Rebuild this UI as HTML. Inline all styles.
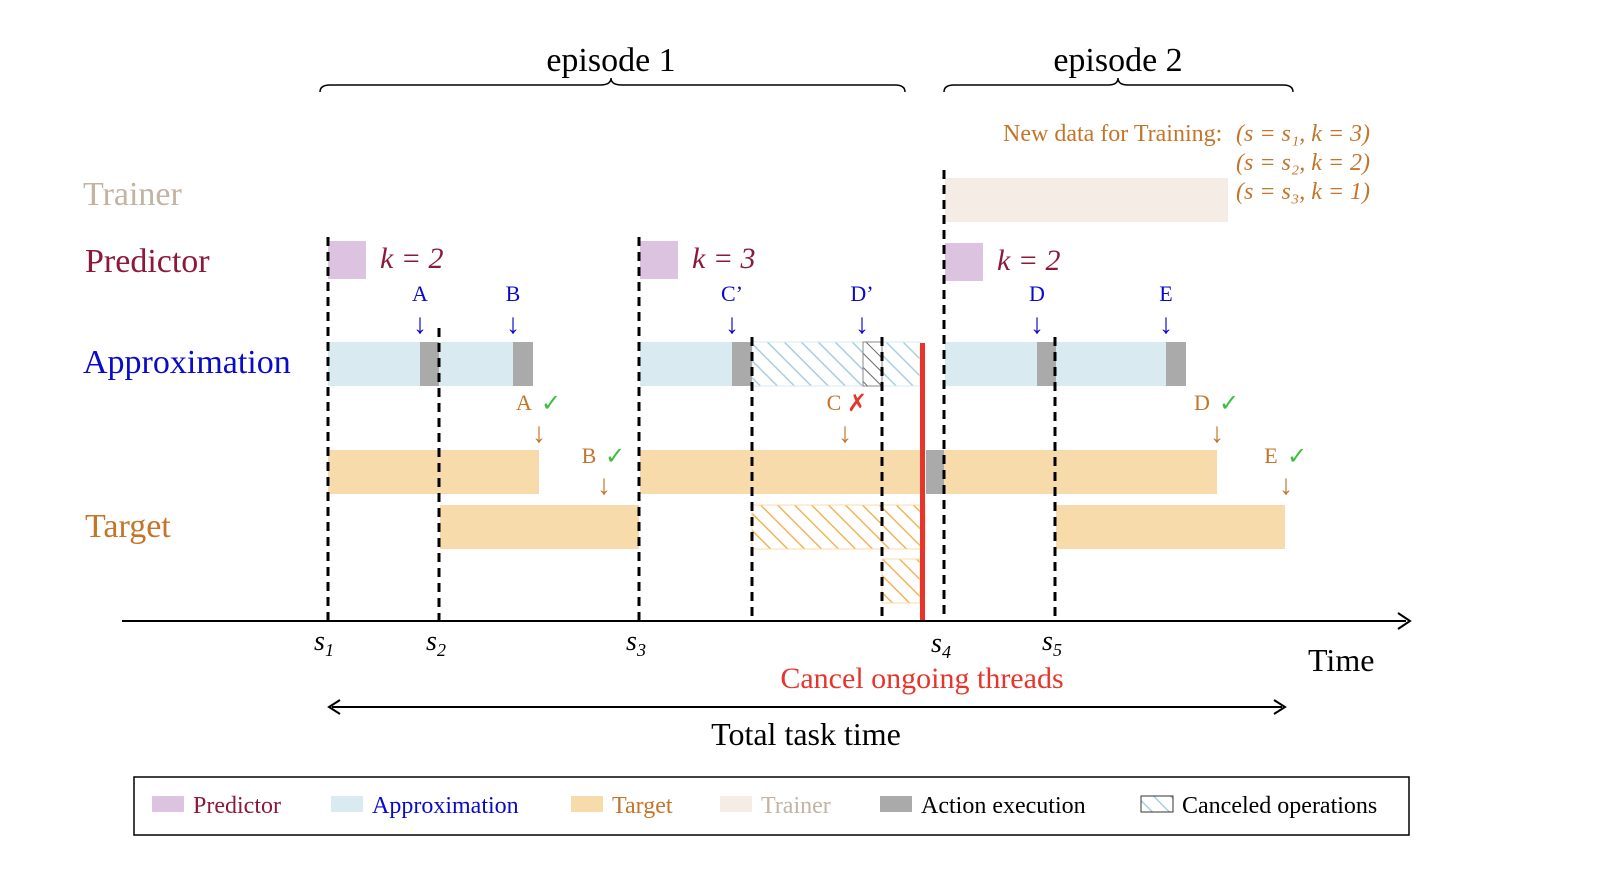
<!DOCTYPE html>
<html><head><meta charset="utf-8"><style>body{margin:0;background:#fff}svg{display:block;font-family:"Liberation Serif",serif}</style></head><body>
<svg width="1600" height="872" viewBox="0 0 1600 872">
<defs>
<pattern id="hb" patternUnits="userSpaceOnUse" width="12" height="12" patternTransform="rotate(-45)"><rect width="12" height="12" fill="#fff"/><line x1="0" y1="0" x2="0" y2="12" stroke="#a9cfe0" stroke-width="3"/></pattern>
<pattern id="ho" patternUnits="userSpaceOnUse" width="12" height="12" patternTransform="rotate(-45)"><rect width="12" height="12" fill="#fff"/><line x1="0" y1="0" x2="0" y2="12" stroke="#f3b45a" stroke-width="3"/></pattern>
<pattern id="hk" patternUnits="userSpaceOnUse" width="10" height="10" patternTransform="rotate(-45)"><rect width="10" height="10" fill="#fff"/><line x1="0" y1="0" x2="0" y2="10" stroke="#666" stroke-width="2"/></pattern>
</defs>
<g fill="none" stroke="#000" stroke-width="1.5">
<path d="M320 92 Q320 85 330 85 L600 85 Q611 85 611 78 Q611 85 622 85 L895 85 Q905 85 905 92"/>
<path d="M944 92 Q944 85 954 85 L1108 85 Q1118 85 1118 78 Q1118 85 1128 85 L1283 85 Q1293 85 1293 92"/>
</g>
<text x="611" y="71" font-size="34" text-anchor="middle">episode 1</text>
<text x="1118" y="71" font-size="34" text-anchor="middle">episode 2</text>
<g fill="#c4752a" font-size="24">
<text x="1003" y="141">New data for Training:</text>
<text x="1236" y="141" font-style="italic">(s = s₁, k = 3)</text>
<text x="1236" y="170" font-style="italic">(s = s₂, k = 2)</text>
<text x="1236" y="199" font-style="italic">(s = s₃, k = 1)</text>
</g>
<text x="83" y="205" font-size="34" fill="#c3b3a3">Trainer</text>
<text x="85" y="272" font-size="34" fill="#8b1a3a">Predictor</text>
<text x="83" y="373" font-size="34" fill="#0a0acd">Approximation</text>
<text x="85" y="537" font-size="34" fill="#c4752a">Target</text>
<rect x="945" y="178" width="283" height="44" fill="#f4ece5"/>
<g fill="#dcc3df"><rect x="328" y="241" width="38" height="38"/><rect x="640" y="241" width="38" height="38"/><rect x="945" y="243" width="38" height="38"/></g>
<g font-size="30" fill="#8b1a3a" font-style="italic"><text x="380" y="268">k = 2</text><text x="692" y="268">k = 3</text><text x="997" y="270">k = 2</text></g>
<g fill="#d9eaf1"><rect x="328" y="342" width="92" height="44"/><rect x="439" y="342" width="74" height="44"/><rect x="640" y="342" width="92" height="44"/><rect x="945" y="342" width="92" height="44"/><rect x="1056" y="342" width="110" height="44"/></g>
<rect x="752" y="342" width="168" height="44" fill="url(#hb)" stroke="#d9eaf1"/>
<rect x="863" y="342" width="19" height="44" fill="url(#hk)" stroke="#888"/>
<g fill="#aaa"><rect x="420" y="342" width="19" height="44"/><rect x="513" y="342" width="20" height="44"/><rect x="732" y="342" width="20" height="44"/><rect x="1037" y="342" width="19" height="44"/><rect x="1166" y="342" width="20" height="44"/><rect x="926" y="450" width="18" height="44"/></g>
<g fill="#f8dbaa"><rect x="328" y="450" width="211" height="44"/><rect x="640" y="450" width="282" height="44"/><rect x="944" y="450" width="273" height="44"/><rect x="440" y="505" width="199" height="44"/><rect x="1056" y="505" width="229" height="44"/></g>
<rect x="752" y="505" width="173" height="44" fill="url(#ho)" stroke="#f8dbaa"/>
<rect x="882" y="559" width="38" height="44" fill="url(#ho)" stroke="#f8dbaa"/>
<g stroke="#000" stroke-width="3" stroke-dasharray="9,6">
<line x1="328" y1="237" x2="328" y2="620"/><line x1="439" y1="328" x2="439" y2="620"/><line x1="639" y1="237" x2="639" y2="620"/><line x1="752" y1="337" x2="752" y2="620"/><line x1="882" y1="337" x2="882" y2="620"/><line x1="944" y1="170" x2="944" y2="620"/><line x1="1055" y1="337" x2="1055" y2="620"/>
</g>
<rect x="920" y="343" width="5" height="278" fill="#e8352b"/>
<g font-size="22" fill="#0a0acd" text-anchor="middle">
<text x="420" y="301">A</text><text x="513" y="301">B</text><text x="732" y="301">C’</text><text x="862" y="301">D’</text><text x="1037" y="301">D</text><text x="1166" y="301">E</text>
<text x="420" y="333" font-size="28">↓</text><text x="513" y="333" font-size="28">↓</text><text x="732" y="333" font-size="28">↓</text><text x="862" y="333" font-size="28">↓</text><text x="1037" y="333" font-size="28">↓</text><text x="1166" y="333" font-size="28">↓</text>
</g>
<g font-size="22" fill="#c4752a" text-anchor="middle">
<text x="524" y="410">A</text><text x="589" y="463">B</text><text x="834" y="410">C</text><text x="1202" y="410">D</text><text x="1271" y="463">E</text>
<text x="539" y="442" font-size="28">↓</text><text x="604" y="494" font-size="28">↓</text><text x="845" y="442" font-size="28">↓</text><text x="1217" y="442" font-size="28">↓</text><text x="1286" y="494" font-size="28">↓</text>
</g>
<g font-size="24" fill="#3cc03c" font-family="DejaVu Sans"><text x="541" y="411">✓</text><text x="605" y="464">✓</text><text x="1219" y="411">✓</text><text x="1287" y="464">✓</text></g>
<text x="847" y="411" font-size="24" fill="#e8352b" font-family="DejaVu Sans">✗</text>
<line x1="122" y1="621" x2="1406" y2="621" stroke="#000" stroke-width="2"/>
<path d="M1398 613 L1410 621 L1398 629" fill="none" stroke="#000" stroke-width="2"/>
<g font-size="28" font-style="italic" text-anchor="middle">
<text x="324" y="650">s<tspan font-size="18" dy="6">1</tspan></text><text x="436" y="650">s<tspan font-size="18" dy="6">2</tspan></text><text x="636" y="650">s<tspan font-size="18" dy="6">3</tspan></text><text x="941" y="652">s<tspan font-size="18" dy="6">4</tspan></text><text x="1052" y="650">s<tspan font-size="18" dy="6">5</tspan></text>
</g>
<text x="1308" y="671" font-size="32">Time</text>
<text x="922" y="688" font-size="30" fill="#e8352b" text-anchor="middle">Cancel ongoing threads</text>
<line x1="332" y1="707" x2="1282" y2="707" stroke="#000" stroke-width="2"/>
<path d="M340 700 L329 707 L340 714 M1274 700 L1285 707 L1274 714" fill="none" stroke="#000" stroke-width="2"/>
<text x="806" y="745" font-size="32" text-anchor="middle">Total task time</text>
<rect x="134" y="777" width="1275" height="58" fill="none" stroke="#000" stroke-width="1.5"/>
<g font-size="24">
<rect x="152" y="796" width="32" height="16" fill="#dcc3df"/><text x="193" y="813" fill="#8b1a3a">Predictor</text>
<rect x="331" y="796" width="32" height="16" fill="#d9eaf1"/><text x="372" y="813" fill="#0a0acd">Approximation</text>
<rect x="571" y="796" width="32" height="16" fill="#f8dbaa"/><text x="612" y="813" fill="#c4752a">Target</text>
<rect x="720" y="796" width="32" height="16" fill="#f4ece5"/><text x="761" y="813" fill="#c3b3a3">Trainer</text>
<rect x="880" y="796" width="32" height="16" fill="#aaa"/><text x="921" y="813">Action execution</text>
<rect x="1141" y="796" width="32" height="16" fill="url(#hb)" stroke="#333"/><text x="1182" y="813">Canceled operations</text>
</g>
</svg>
</body></html>
